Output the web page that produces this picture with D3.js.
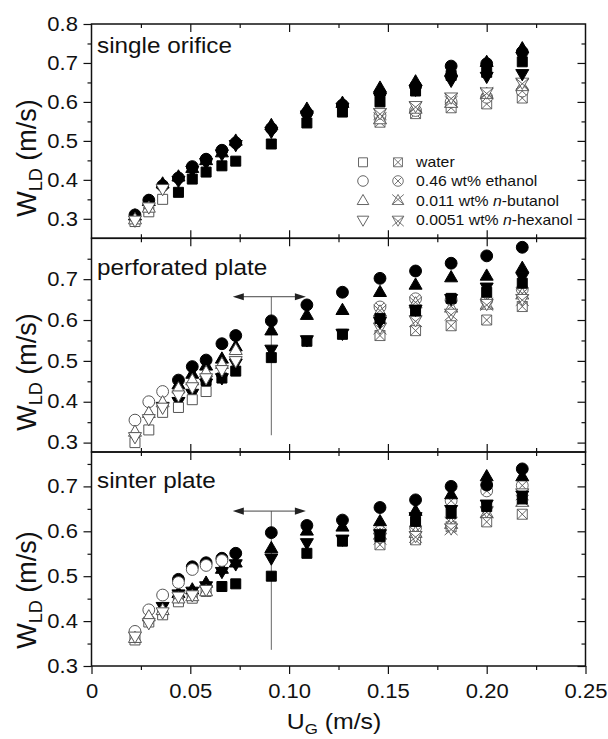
<!DOCTYPE html>
<html><head><meta charset="utf-8">
<script src="https://cdn.jsdelivr.net/npm/d3@7"></script>
<style>
body{margin:0;background:#fff}
svg{display:block}
text{font-family:"Liberation Sans",Arial,sans-serif;fill:#111}
</style>
</head><body>
<svg id="c" width="608" height="739"></svg>
<script>
const N = null;
// superficial gas velocity positions (m/s)
const ugValues = [0.022,0.029,0.036,0.044,0.051,0.058,0.066,0.073,0.091,0.109,0.127,0.146,0.164,0.182,0.200,0.218];
const liquids = ["water","0.46 wt% ethanol","0.011 wt% n-butanol","0.0051 wt% n-hexanol"];
const panelNames = ["single orifice","perforated plate","sinter plate"];
const xTicks = [0,0.05,0.10,0.15,0.20,0.25];
const xTickLabels = ["0","0.05","0.10","0.15","0.20","0.25"];
const xMinorTicks = [0.025,0.075,0.125,0.175,0.225];
const yTickLabelsTop = [0.3,0.4,0.5,0.6,0.7,0.8];
const yTickLabelsLower = [0.3,0.4,0.5,0.6,0.7];
const yMinorTicks = [0.35,0.45,0.55,0.65,0.75];

// single orifice
const soWaterOpen      = [0.293,0.318,0.350,N,N,N,N,N,N,N,N,N,N,N,N,N];
const soWaterFilled    = [N,N,N,0.368,0.402,0.420,0.436,0.448,0.492,0.546,0.574,0.600,0.628,0.668,0.676,0.703];
const soWaterCrossed   = [N,N,N,N,N,N,N,N,N,N,N,0.548,0.570,0.585,0.595,0.610];
const soEthanolOpen    = [N,N,N,N,N,N,N,N,N,N,N,N,N,N,N,N];
const soEthanolFilled  = [0.310,0.348,0.385,0.405,0.434,0.453,0.476,0.495,0.532,0.572,0.592,0.622,0.640,0.692,0.698,0.728];
const soEthanolCrossed = [N,N,N,N,N,N,N,N,N,N,N,0.565,0.578,0.600,0.612,0.628];
const soButanolOpen    = [0.298,0.328,N,N,N,N,N,N,N,N,N,N,N,N,N,N];
const soButanolFilled  = [0.308,0.345,0.390,0.408,0.430,0.450,0.470,0.500,0.540,0.582,0.597,0.636,0.652,0.678,0.702,0.737];
const soButanolCrossed = [N,N,N,N,N,N,N,N,N,N,N,0.555,0.582,0.597,0.620,0.640];
const soHexanolOpen    = [0.296,0.330,0.377,N,N,N,N,N,N,N,N,N,N,N,N,N];
const soHexanolFilled  = [N,N,N,0.398,0.424,0.444,0.466,0.490,0.524,0.566,0.586,0.612,0.632,0.655,0.665,0.672];
const soHexanolCrossed = [N,N,N,N,N,N,N,N,N,N,N,0.572,0.590,0.612,0.625,0.650];

// perforated plate
const ppWaterOpen      = [0.300,0.331,0.374,0.386,0.405,0.425,N,N,N,N,N,N,N,N,N,N];
const ppWaterFilled    = [N,N,N,N,N,0.452,0.458,0.475,0.508,0.548,0.565,0.604,0.622,0.653,0.668,0.690];
const ppWaterCrossed   = [N,N,N,N,N,N,N,N,N,N,N,0.562,0.574,0.586,0.600,0.633];
const ppEthanolOpen    = [0.355,0.400,0.425,N,N,N,N,N,N,N,N,N,N,N,N,N];
const ppEthanolFilled  = [N,N,N,0.453,0.486,0.502,0.542,0.562,0.598,0.637,0.668,0.702,0.720,0.739,0.757,0.778];
const ppEthanolCrossed = [N,N,N,N,N,N,N,N,N,N,N,0.632,0.652,0.650,0.648,0.675];
const ppButanolOpen    = [0.326,0.372,0.398,0.432,0.452,0.472,0.492,0.526,N,N,N,N,N,N,N,N];
const ppButanolFilled  = [N,N,N,0.442,0.468,0.488,0.505,0.535,0.574,0.612,0.624,0.668,0.686,0.704,0.708,0.727];
const ppButanolCrossed = [N,N,N,N,N,N,N,N,N,N,N,0.620,0.640,0.630,0.637,0.662];
const ppHexanolOpen    = [0.314,0.358,0.386,0.416,0.436,0.458,0.478,0.500,N,N,N,N,N,N,N,N];
const ppHexanolFilled  = [N,N,0.388,0.400,0.420,0.445,0.458,0.494,0.528,0.551,0.567,0.596,0.626,0.652,0.680,0.705];
const ppHexanolCrossed = [N,N,N,N,N,N,N,N,N,N,N,0.582,0.600,0.616,0.640,0.652];

// sinter plate
const spWaterOpen      = [0.358,0.398,0.414,0.443,0.451,0.466,N,N,N,N,N,N,N,N,N,N];
const spWaterFilled    = [N,N,N,N,N,N,0.477,0.483,0.500,0.551,0.578,0.588,0.622,0.640,0.655,0.672];
const spWaterCrossed   = [N,N,N,N,N,N,N,N,N,N,N,0.570,0.581,0.610,0.621,0.638];
const spEthanolOpen    = [0.377,0.425,0.458,0.486,0.515,0.524,0.535,N,N,N,N,N,N,N,N,N];
const spEthanolFilled  = [N,N,N,0.493,0.521,0.530,0.540,0.551,0.597,0.613,0.625,0.653,0.670,0.700,0.703,0.739];
const spEthanolCrossed = [N,N,N,N,N,N,N,N,N,N,N,0.600,0.608,0.668,0.690,0.702];
const spButanolOpen    = [0.362,0.410,0.424,0.450,0.455,0.466,N,N,N,N,N,N,N,N,N,N];
const spButanolFilled  = [N,N,N,0.462,0.470,0.485,0.516,0.530,0.562,0.601,0.610,0.622,0.645,0.682,0.722,0.722];
const spButanolCrossed = [N,N,N,N,N,N,N,N,N,N,N,0.592,0.596,0.616,0.640,0.665];
const spHexanolOpen    = [0.366,0.396,0.420,0.455,0.458,0.470,N,N,N,N,N,N,N,N,N,N];
const spHexanolFilled  = [N,N,0.432,0.460,0.466,0.478,0.510,0.527,0.540,0.574,0.582,0.594,0.632,0.648,0.660,0.680];
const spHexanolCrossed = [N,N,N,N,N,N,N,N,N,N,N,0.586,0.590,0.607,0.645,0.685];

// regime transition markers (U_G, arrow span, arrow level, line bottom)
const transitionUG = 0.091;
const arrowSpan = [0.0715, 0.1085];
const arrowLevel = [N, 0.657, 0.645];
const lineBottom = [N, 0.318, 0.336];

// ---------------- drawing ----------------
const svg = d3.select("#c");
const X0 = 91.5, X1 = 585.5;
const x = d3.scaleLinear().domain([0,0.25]).range([X0,X1]);
const STRETCH = 1.13;

const panels = [
  {name:panelNames[0], top:24, bottom:238.3, domain:[0.25,0.8], majors:yTickLabelsTop, titleY:158,
   sets:[[soWaterOpen,soWaterFilled,soWaterCrossed],[soEthanolOpen,soEthanolFilled,soEthanolCrossed],[soButanolOpen,soButanolFilled,soButanolCrossed],[soHexanolOpen,soHexanolFilled,soHexanolCrossed]]},
  {name:panelNames[1], top:238.3, bottom:452, domain:[0.277,0.8], majors:yTickLabelsLower, titleY:372,
   sets:[[ppWaterOpen,ppWaterFilled,ppWaterCrossed],[ppEthanolOpen,ppEthanolFilled,ppEthanolCrossed],[ppButanolOpen,ppButanolFilled,ppButanolCrossed],[ppHexanolOpen,ppHexanolFilled,ppHexanolCrossed]]},
  {name:panelNames[2], top:452, bottom:666, domain:[0.3,0.7766], majors:yTickLabelsLower, titleY:590,
   sets:[[spWaterOpen,spWaterFilled,spWaterCrossed],[spEthanolOpen,spEthanolFilled,spEthanolCrossed],[spButanolOpen,spButanolFilled,spButanolCrossed],[spHexanolOpen,spHexanolFilled,spHexanolCrossed]]}
];

// symbol types
function triPts(s, down){
  const a = Math.sqrt(s)*1.3, h = a*0.866, sg = down?-1:1;
  return {a, apex:-sg*h*0.62, base:sg*h*0.38};
}
const symSquare = {draw(c,s){const h=Math.sqrt(s)/2; c.rect(-h,-h,2*h,2*h);}};
const symCircle = {draw(c,s){const r=Math.sqrt(s/Math.PI)*1.05; c.moveTo(r,0); c.arc(0,0,r,0,2*Math.PI);}};
function triType(down, crossed){
  return {draw(c,s){
    const t = triPts(s, down);
    c.moveTo(0,t.apex); c.lineTo(t.a/2,t.base); c.lineTo(-t.a/2,t.base); c.closePath();
    if(crossed){
      c.moveTo(-t.a/2,t.base); c.lineTo(t.a/2,t.apex);
      c.moveTo(t.a/2,t.base); c.lineTo(-t.a/2,t.apex);
    }
  }};
}
const symSquareX = {draw(c,s){const h=Math.sqrt(s)/2; c.rect(-h,-h,2*h,2*h); c.moveTo(-h,-h); c.lineTo(h,h); c.moveTo(h,-h); c.lineTo(-h,h);}};
const symCircleX = {draw(c,s){const r=Math.sqrt(s/Math.PI)*1.05, k=r*0.707; c.moveTo(r,0); c.arc(0,0,r,0,2*Math.PI); c.moveTo(-k,-k); c.lineTo(k,k); c.moveTo(k,-k); c.lineTo(-k,k);}};
const plainTypes = [symSquare, symCircle, triType(false,false), triType(true,false)];
const crossTypes = [symSquareX, symCircleX, triType(false,true), triType(true,true)];

const MS = 100;

function styleAxis(g){
  g.select(".domain").remove();
  g.selectAll(".tick line").attr("stroke","#111").attr("stroke-width",1.2);
}

panels.forEach((p, pi) => {
  const y = d3.scaleLinear().domain(p.domain).range([p.bottom, p.top]);
  const g = svg.append("g");
  const minors = yMinorTicks.filter(v => v > p.domain[0] + 1e-6 && v < p.domain[1] - 1e-6);

  // left axis
  const la = g.append("g").attr("transform",`translate(${X0},0)`)
    .call(d3.axisLeft(y).tickValues(p.majors).tickSize(8).tickPadding(4).tickFormat(d3.format(".1f")));
  styleAxis(la);
  la.selectAll("text").attr("font-size",19.5).attr("transform",`scale(${STRETCH},1)`).style("fill","#111");
  styleAxis(g.append("g").attr("transform",`translate(${X0},0)`).call(d3.axisLeft(y).tickValues(minors).tickSize(4).tickFormat("")));
  // right axis (inward)
  styleAxis(g.append("g").attr("transform",`translate(${X1},0)`).call(d3.axisRight(y).tickValues(p.majors.filter(v=>v<p.domain[1]-1e-6)).tickSize(-8).tickFormat("")));
  styleAxis(g.append("g").attr("transform",`translate(${X1},0)`).call(d3.axisRight(y).tickValues(minors).tickSize(-4).tickFormat("")));
  // top axis (inward)
  styleAxis(g.append("g").attr("transform",`translate(0,${p.top})`).call(d3.axisTop(x).tickValues(xTicks.slice(1,-1)).tickSize(-8).tickFormat("")));
  styleAxis(g.append("g").attr("transform",`translate(0,${p.top})`).call(d3.axisTop(x).tickValues(xMinorTicks).tickSize(-4).tickFormat("")));
  // bottom axis
  if (pi === panels.length - 1) {
    const ba = g.append("g").attr("transform",`translate(0,${p.bottom})`)
      .call(d3.axisBottom(x).tickValues(xTicks).tickSize(8).tickPadding(10.5).tickFormat((d,i)=>xTickLabels[i]));
    styleAxis(ba);
    ba.selectAll("text").attr("font-size",19.5).attr("transform",`scale(${STRETCH},1)`).style("fill","#111");
    styleAxis(g.append("g").attr("transform",`translate(0,${p.bottom})`).call(d3.axisBottom(x).tickValues(xMinorTicks).tickSize(4).tickFormat("")));
  } else {
    styleAxis(g.append("g").attr("transform",`translate(0,${p.bottom})`).call(d3.axisBottom(x).tickValues(xTicks.slice(1,-1)).tickSize(-8).tickFormat("")));
    styleAxis(g.append("g").attr("transform",`translate(0,${p.bottom})`).call(d3.axisBottom(x).tickValues(xMinorTicks).tickSize(-4).tickFormat("")));
  }

  // frame
  g.append("rect").attr("x",X0).attr("y",p.top).attr("width",X1-X0).attr("height",p.bottom-p.top)
    .attr("fill","none").attr("stroke","#111").attr("stroke-width",1.5);

  // transition arrow
  if (arrowLevel[pi] !== null) {
    const ay = y(arrowLevel[pi]);
    const lg = g.append("g");
    lg.append("line").attr("x1",x(transitionUG)).attr("x2",x(transitionUG)).attr("y1",ay).attr("y2",y(lineBottom[pi]))
      .attr("stroke","#666").attr("stroke-width",1);
    lg.append("line").attr("x1",x(arrowSpan[0])+6).attr("x2",x(arrowSpan[1])-6).attr("y1",ay).attr("y2",ay)
      .attr("stroke","#444").attr("stroke-width",1);
    const xl = x(arrowSpan[0]), xr = x(arrowSpan[1]);
    lg.append("path").attr("d",`M${xl},${ay}L${xl+11},${ay-3.6}L${xl+11},${ay+3.6}Z`).attr("fill","#222");
    lg.append("path").attr("d",`M${xr},${ay}L${xr-11},${ay-3.6}L${xr-11},${ay+3.6}Z`).attr("fill","#222");
  }

  // markers: crossed, then filled, then open
  const layers = [
    {k:2, types:crossTypes, fill:"#fff", stroke:"#555", sw:0.9},
    {k:1, types:plainTypes, fill:"#000", stroke:"#000", sw:1},
    {k:0, types:plainTypes, fill:"#fff", stroke:"#555", sw:1}
  ];
  layers.forEach(L => {
    p.sets.forEach((set, li) => {
      const pts = ugValues.map((u,i)=>({u, v:set[L.k][i]})).filter(d => d.v !== null);
      g.append("g").selectAll("path").data(pts).join("path")
        .attr("transform", d => `translate(${x(d.u)},${y(d.v)})`)
        .attr("d", d3.symbol().type(L.types[li]).size(MS))
        .attr("fill", L.fill).attr("stroke", L.stroke).attr("stroke-width", L.sw);
    });
  });

  // panel label
  g.append("text").attr("transform",`translate(97,${[52.7,275,488.3][pi]}) scale(${STRETCH},1)`)
    .attr("font-size",21.5).text(p.name);

  // y title
  const t = g.append("text").attr("text-anchor","middle").attr("font-size",27)
    .attr("transform",`translate(36,${p.titleY}) rotate(-90)`);
  t.append("tspan").text("W");
  t.append("tspan").attr("font-size",18).attr("dy",6).text("LD");
  t.append("tspan").attr("dy",-6).text(" (m/s)");
});

// x title
const xt = svg.append("text").attr("text-anchor","middle").attr("font-size",22)
  .attr("transform",`translate(334,729) scale(${STRETCH},1)`);
xt.append("tspan").text("U");
xt.append("tspan").attr("font-size",15).attr("dy",4.5).text("G");
xt.append("tspan").attr("dy",-4.5).text(" (m/s)");

// legend (top panel)
const legRows = [162.3,181,200.7,220];
const lg = svg.append("g");
liquids.forEach((name, i) => {
  lg.append("path").attr("transform",`translate(363,${legRows[i]})`).attr("d",d3.symbol().type(plainTypes[i]).size(80))
    .attr("fill","#fff").attr("stroke","#666").attr("stroke-width",1);
  lg.append("path").attr("transform",`translate(398,${legRows[i]})`).attr("d",d3.symbol().type(crossTypes[i]).size(80))
    .attr("fill","#fff").attr("stroke","#666").attr("stroke-width",0.9);
  const tx = lg.append("text").attr("transform",`translate(416,${legRows[i]+5}) scale(${STRETCH},1)`).attr("font-size",14);
  const idx = name.indexOf(" n-");
  if (idx >= 0) {
    tx.append("tspan").text(name.slice(0, idx + 1));
    tx.append("tspan").attr("font-style","italic").text("n");
    tx.append("tspan").text(name.slice(idx + 2));
  } else {
    tx.text(name);
  }
});
</script>
</body></html>
